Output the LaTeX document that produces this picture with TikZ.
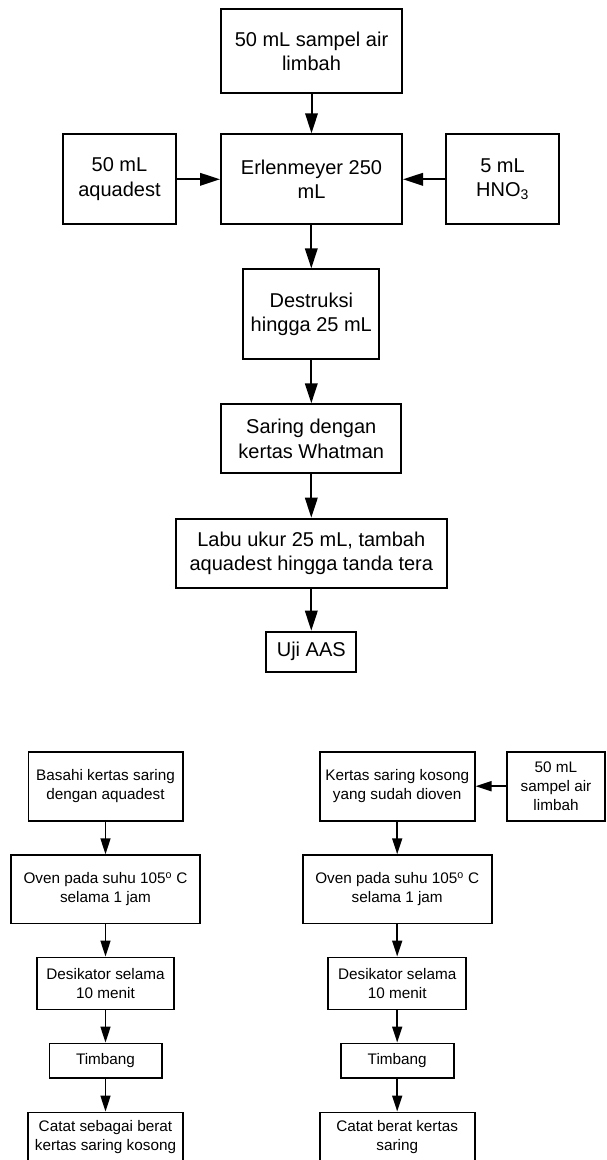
\documentclass[tikz,border=0pt]{standalone}
\usepackage{fontspec}
\setmainfont{Liberation Sans}
\usetikzlibrary{arrows.meta}
\begin{document}
\begin{tikzpicture}[x=1pt,y=-1pt,
  topbox/.style={draw, line width=2pt, align=center, inner sep=0pt,
    font=\fontsize{20}{24.5}\selectfont},
  botbox/.style={draw, line width=1.6pt, align=center, inner sep=0pt,
    font=\fontsize{15.3}{19}\selectfont},
  toparrow/.style={-{Triangle[length=20pt,width=12.5pt]}, line width=2pt},
  botarrow/.style={-{Triangle[length=16pt,width=10pt]}, line width=1.6pt}]
\useasboundingbox (0,0) rectangle (606,1160);
\clip (0,0) rectangle (606,1160);
% top flow
\node[topbox, minimum width=181pt, minimum height=84.3pt] (s1) at (311.5,51.2) {50 mL sampel air\\limbah};
\node[topbox, minimum width=181pt, minimum height=90pt] (erl) at (311.5,179.3) {Erlenmeyer 250\\mL};
\node[topbox, minimum width=113pt, minimum height=90pt] (aq) at (119.5,179.3) {50 mL\\aquadest};
\node[topbox, minimum width=113pt, minimum height=90pt] (hno) at (502.5,179.3) {5 mL\\HNO\textsubscript{3}};
\node[topbox, minimum width=136pt, minimum height=89.7pt] (des) at (311.3,314.2) {Destruksi\\hingga 25 mL};
\node[topbox, minimum width=180.3pt, minimum height=69pt] (sar) at (311.3,438.8) {Saring dengan\\kertas Whatman};
\node[topbox, minimum width=270.7pt, minimum height=69.6pt] (labu) at (311.3,553.5) {Labu ukur 25 mL, tambah\\aquadest hingga tanda tera};
\node[topbox, minimum width=90pt, minimum height=40pt] (uji) at (311.3,651.7) {Uji AAS};
\draw[toparrow] (s1) -- (erl);
\draw[toparrow] (aq) -- (erl);
\draw[toparrow] (hno) -- (erl);
\draw[toparrow] (erl.south -| des.north) -- (des);
\draw[toparrow] (des) -- (sar);
\draw[toparrow] (sar) -- (labu);
\draw[toparrow] (labu) -- (uji);
% bottom left flow
\node[botbox, minimum width=154.4pt, minimum height=69pt] (b1) at (105.5,786.2) {Basahi kertas saring\\dengan aquadest};
\node[botbox, minimum width=189pt, minimum height=68.3pt] (b2) at (105.5,889.2) {Oven pada suhu 105\textsuperscript{o} C\\selama 1 jam};
\node[botbox, minimum width=137.3pt, minimum height=52pt] (b3) at (105.5,983.3) {Desikator selama\\10 menit};
\node[botbox, minimum width=112.4pt, minimum height=34.4pt] (b4) at (105.5,1060.5) {Timbang};
\node[botbox, minimum width=154.6pt, minimum height=50.4pt] (b5) at (105.5,1137.5) {Catat sebagai berat\\kertas saring kosong};
\draw[botarrow] (b1) -- (b2);
\draw[botarrow] (b2) -- (b3);
\draw[botarrow] (b3) -- (b4);
\draw[botarrow] (b4) -- (b5);
% bottom right flow
\node[botbox, minimum width=155pt, minimum height=69pt] (k1) at (397.2,786.2) {Kertas saring kosong\\yang sudah dioven};
\node[botbox, minimum width=98pt, minimum height=69pt] (smp) at (556,786.2) {50 mL\\sampel air\\limbah};
\node[botbox, minimum width=189pt, minimum height=68.3pt] (k2) at (397.2,889.2) {Oven pada suhu 105\textsuperscript{o} C\\selama 1 jam};
\node[botbox, minimum width=138pt, minimum height=52pt] (k3) at (397.2,983.3) {Desikator selama\\10 menit};
\node[botbox, minimum width=113pt, minimum height=34.4pt] (k4) at (397.2,1060.5) {Timbang};
\node[botbox, minimum width=155pt, minimum height=50.4pt] (k5) at (397.2,1137.5) {Catat berat kertas\\saring};
\draw[botarrow] (smp) -- (k1);
\draw[botarrow] (k1) -- (k2);
\draw[botarrow] (k2) -- (k3);
\draw[botarrow] (k3) -- (k4);
\draw[botarrow] (k4) -- (k5);
\end{tikzpicture}
\end{document}
